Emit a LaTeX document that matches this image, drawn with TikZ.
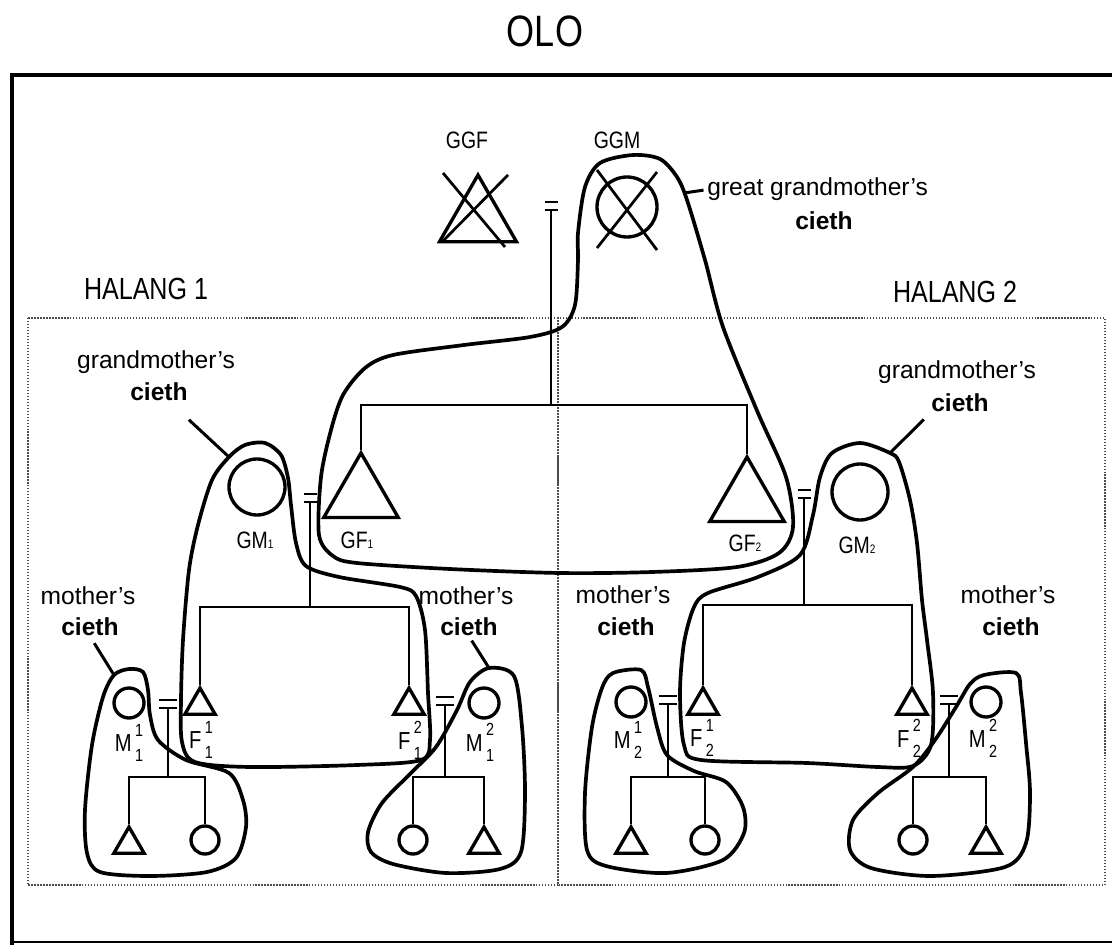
\documentclass[tikz,border=0pt]{standalone}
\usepackage{fontspec}
\setmainfont{Liberation Sans}
\newfontfamily\narrowfont{Liberation Sans}[FakeStretch=0.82]
\usetikzlibrary{shapes.geometric}

\newcommand{\kinlab}[3]{#1\hspace{2pt}\raisebox{-5.7pt}{\vbox{\narrowfont\fontsize{10}{14.7}\selectfont\hbox{#2}\hbox{#3}}}}
\newcommand{\lowidx}[1]{{\fontsize{7}{7}\selectfont #1}}

\begin{document}
\begin{tikzpicture}[x=0.02cm, y=-0.02cm,
  kinline/.style={line width=1.55pt},
  cieth/.style={line width=2.1pt, line join=round},
  leader/.style={line width=1.7pt},
  halang/.style={densely dotted, line width=0.7pt, black!70},
  male/.style={draw, regular polygon, regular polygon sides=3, inner sep=0pt, line width=1.9pt},
  female/.style={draw, circle, inner sep=0pt, line width=1.9pt},
  caps/.style={font=\narrowfont\fontsize{13.5}{14}\selectfont, inner sep=0pt},
  kin/.style={font=\narrowfont\fontsize{14}{14}\selectfont, inner sep=0pt},
  txt/.style={font=\fontsize{14}{17}\selectfont, inner sep=0pt},
  btxt/.style={font=\fontsize{14}{17}\selectfont\bfseries, inner sep=0pt}
]
\useasboundingbox (0,0) rectangle (1112,945);

% frame and the two halang boxes
\draw[line width=2pt] (1112,75) -- (12,75);
\draw[line width=2.8pt] (12,73) -- (12,945);
\draw[line width=1.2pt] (12,942) -- (1112,942);
\draw[halang] (28,318) rectangle (558,885);
\draw[halang] (558,318) rectangle (1105,885);

\node[font=\narrowfont\fontsize{25}{25}\selectfont, inner sep=0pt] (olo) at (545,31) {OLO};
\node[font=\narrowfont\fontsize{17.4}{18}\selectfont, inner sep=0pt] (halang1) at (146,289) {HALANG 1};
\node[font=\narrowfont\fontsize{17.4}{18}\selectfont, inner sep=0pt] (halang2) at (955,292) {HALANG 2};

% great grandparents
\node[male, minimum size=1.78cm] (ggf) at (478,219.5) {};
\node[female, minimum size=1.2cm] (ggm) at (627,207) {};
\draw[kinline] (443,173) -- (505,247) (508,175) -- (442,242);
\draw[kinline] (597,170) -- (657,250) (657,172) -- (597,248);
\node[caps] (ggflab) at (467,140) {GGF};
\node[caps] (ggmlab) at (617,140) {GGM};

% grandparents
\node[male, minimum size=1.72cm] (gf1) at (361,496) {};
\node[male, minimum size=1.72cm] (gf2) at (747,500) {};
\node[female, minimum size=1.12cm] (gm1) at (257,487) {};
\node[female, minimum size=1.12cm] (gm2) at (860,492) {};
\node[caps] (gf1lab) at (357,540) {GF\lowidx{1}};
\node[caps] (gf2lab) at (745,543) {GF\lowidx{2}};
\node[caps] (gm1lab) at (255,540) {GM\lowidx{1}};
\node[caps] (gm2lab) at (857,545) {GM\lowidx{2}};

% parents
\node[male, minimum size=0.7cm] (f11) at (200,705.5) {};
\node[male, minimum size=0.7cm] (f12) at (409,705.5) {};
\node[male, minimum size=0.7cm] (f21) at (703,705.5) {};
\node[male, minimum size=0.7cm] (f22) at (912,705.5) {};
\node[female, minimum size=0.6cm] (m11) at (129,703) {};
\node[female, minimum size=0.6cm] (m12) at (484,703) {};
\node[female, minimum size=0.6cm] (m21) at (631,702) {};
\node[female, minimum size=0.6cm] (m22) at (986,702) {};
\node[kin] (f11lab) at (201,740) {\kinlab{F}{1}{1}};
\node[kin] (f12lab) at (410,740) {\kinlab{F}{2}{1}};
\node[kin] (f21lab) at (702,738) {\kinlab{F}{1}{2}};
\node[kin] (f22lab) at (909,738) {\kinlab{F}{2}{2}};
\node[kin] (m11lab) at (129,743) {\kinlab{M}{1}{1}};
\node[kin] (m12lab) at (480,742) {\kinlab{M}{2}{1}};
\node[kin] (m21lab) at (628,740) {\kinlab{M}{1}{2}};
\node[kin] (m22lab) at (983,738) {\kinlab{M}{2}{2}};

% children
\node[male, minimum size=0.7cm] (c11) at (129,844.5) {};
\node[female, minimum size=0.56cm] (c12) at (205,840) {};
\node[female, minimum size=0.56cm] (c21) at (413,840) {};
\node[male, minimum size=0.7cm] (c22) at (484,844.5) {};
\node[male, minimum size=0.7cm] (c31) at (631,844.5) {};
\node[female, minimum size=0.56cm] (c32) at (705,840) {};
\node[female, minimum size=0.56cm] (c41) at (913,840) {};
\node[male, minimum size=0.7cm] (c42) at (986,844.5) {};

% marriage signs
\foreach \n/\x/\y/\w in {eq0/551/206/6.5, eq1/310/498/6.5, eq2/804/494/6.5,
    eq3/168/704/9, eq4/445/701/9, eq5/668/700/9, eq6/949/700/9} {
  \draw[kinline] (\x-\w,\y-4) -- (\x+\w,\y-4) (\x-\w,\y+4) -- (\x+\w,\y+4);
  \coordinate (\n) at (\x,\y+4);
}
\coordinate (bar1) at (0,405);
\coordinate (bar2) at (0,607);
\coordinate (bar3) at (0,605);
\coordinate (kids) at (0,777);

% descent lines
\draw[kinline] (eq0) -- (eq0 |- bar1);
\draw[kinline] (gf1.corner 1) -- (gf1.corner 1 |- bar1) -| (gf2.corner 1);
\draw[kinline] (eq1) -- (eq1 |- bar2);
\draw[kinline] (f11.corner 1) -- (f11.corner 1 |- bar2) -| (f12.corner 1);
\draw[kinline] (eq2) -- (eq2 |- bar3);
\draw[kinline] (f21.corner 1) -- (f21.corner 1 |- bar3) -| (f22.corner 1);
\draw[kinline] (eq3) -- (eq3 |- kids);
\draw[kinline] (c11.corner 1) -- (c11.corner 1 |- kids) -| (c12.north);
\draw[kinline] (eq4) -- (eq4 |- kids);
\draw[kinline] (c21.north) -- (c21.north |- kids) -| (c22.corner 1);
\draw[kinline] (eq5) -- (eq5 |- kids);
\draw[kinline] (c31.corner 1) -- (c31.corner 1 |- kids) -| (c32.north);
\draw[kinline] (eq6) -- (eq6 |- kids);
\draw[kinline] (c41.north) -- (c41.north |- kids) -| (c42.corner 1);

% cieth outlines
\draw[cieth] plot[smooth cycle] coordinates {(633,155) (660,159) (677,177) (687,200)
  (705,260) (723,327) (758,413) (786,477) (793,527) (779,553) (737,567) (652,572)
  (560,573) (450,569) (357,563) (333,556) (319,535) (321,477) (331,430) (343,395)
  (365,368) (393,355) (464,345) (530,337) (562,327) (575,305) (578,260) (578,233)
  (585,187) (600,163)};
\draw[cieth] plot[smooth cycle] coordinates {(229,457) (245,445) (265,443) (281,455)
  (288,478) (291,505) (296,543) (306,566) (339,577) (400,587) (416,596) (425,630)
  (428,693) (430,740) (421,760) (357,765) (250,767) (195,762) (182,742) (181,700)
  (183,640) (189,570) (198,525) (212,480)};
\draw[cieth] plot[smooth cycle] coordinates {(890,453) (899,462) (910,500) (917,543)
  (922,600) (927,640) (933,693) (931,745) (913,766) (878,767) (807,763) (701,760)
  (684,745) (680,693) (684,643) (694,607) (708,593) (758,577) (800,555) (813,515)
  (820,477) (832,453) (860,443)};
\draw[cieth] plot[smooth cycle] coordinates {(114,675) (129,669) (143,672) (148,690)
  (150,715) (158,740) (186,760) (229,773) (243,800) (246,827) (236,858) (207,872)
  (150,876) (100,872) (87,853) (85,810) (92,745) (103,697)};
\draw[cieth] plot[smooth cycle] coordinates {(489,668) (514,676) (522,727) (525,793)
  (521,852) (500,869) (446,873) (393,864) (371,852) (368,832) (382,803) (411,773)
  (436,747) (457,710) (470,682)};
\draw[cieth] plot[smooth cycle] coordinates {(613,673) (641,670) (648,687) (657,727)
  (667,755) (694,771) (726,782) (743,807) (744,833) (723,860) (666,873) (606,866)
  (587,850) (585,793) (592,727) (602,688)};
\draw[cieth] plot[smooth cycle] coordinates {(984,675) (1016,673) (1021,693) (1026,743)
  (1030,793) (1026,843) (1005,867) (931,876) (871,868) (850,850) (853,820) (878,793)
  (913,767) (935,740) (956,707) (970,684)};
\coordinate (ggmtip) at (684,193);
\coordinate (gm1tip) at (229,457);
\coordinate (gm2tip) at (890,453);
\coordinate (m11tip) at (114,675);
\coordinate (m12tip) at (489,668);

% cieth labels
\node[txt, anchor=base west] (ggmtxt) at (707,196) {great grandmother's};
\node[btxt] (ggmc) at (824,221) {cieth};
\node[txt] (gm1txt) at (156,362) {grandmother's};
\node[btxt] (gm1c) at (159,392) {cieth};
\node[txt] (gm2txt) at (957,372) {grandmother's};
\node[btxt] (gm2c) at (960,403) {cieth};
\node[txt] (m11txt) at (88,596) {mother's};
\node[btxt] (m11c) at (90,627) {cieth};
\node[txt] (m12txt) at (466,596) {mother's};
\node[btxt] (m12c) at (469,627) {cieth};
\node[txt] (m21txt) at (623,595) {mother's};
\node[btxt] (m21c) at (626,627) {cieth};
\node[txt] (m22txt) at (1008,595) {mother's};
\node[btxt] (m22c) at (1011,627) {cieth};

\draw[leader, shorten <=2pt] (ggmtxt.west) -- (ggmtip);
\draw[leader, shorten <=0.54cm] (gm1c) -- (gm1tip);
\draw[leader, shorten <=0.2cm] (gm2c.south west) -- (gm2tip);
\draw[leader, shorten <=0.16cm] (m11c.south) -- (m11tip);
\draw[leader, shorten <=0.1cm] (m12c.south) -- (m12tip);
\end{tikzpicture}
\end{document}
